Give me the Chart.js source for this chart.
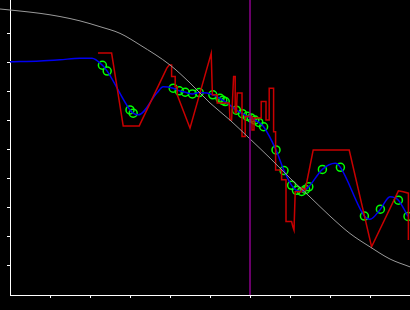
<!DOCTYPE html>
<html>
<head>
<meta charset="utf-8">
<script src="https://cdn.jsdelivr.net/npm/chart.js@4"></script>
<style>
  html, body { margin: 0; padding: 0; background: #000; }
  #wrap { width: 410px; height: 310px; }
</style>
</head>
<body>
<div id="wrap"><canvas id="chart" width="410" height="310"></canvas></div>
<script>
// reference curve (gray)
const curveX = [-0.25, 0.25, 0.75, 1.25, 1.75, 2.25, 2.75, 3.25, 4.0, 4.5, 5.0, 5.5, 6.0, 6.5, 7.0, 7.5, 8.0, 8.5, 9.0, 9.5, 10.0];
const curveY = [9.86, 9.79, 9.71, 9.60, 9.45, 9.25, 9.02, 8.62, 7.93, 7.31, 6.62, 6.03, 5.38, 4.72, 4.03, 3.38, 2.72, 2.12, 1.66, 1.24, 0.97];

// raw signal (red)
const rawX = [2.2, 2.54, 2.83, 3.23, 3.92, 3.98, 4.04, 4.04, 4.13, 4.13, 4.18, 4.18, 4.5, 5.03, 5.06, 5.18, 5.18, 5.48, 5.5, 5.54,
  5.59, 5.63, 5.63, 5.66, 5.68, 5.8, 5.8, 5.88, 5.88, 6.05, 6.05, 6.1, 6.1, 6.28, 6.28, 6.4, 6.4, 6.48, 6.48, 6.59,
  6.59, 6.64, 6.64, 6.79, 6.79, 6.9, 6.9, 7.04, 7.07, 7.1, 7.13, 7.29, 7.29, 7.38, 7.58, 8.48, 9.04, 9.71, 9.83, 9.96,
  9.96];
const rawY = [8.34, 8.34, 5.83, 5.83, 7.82, 7.93, 7.93, 7.53, 7.53, 7.18, 7.18, 6.90, 5.75, 8.33, 6.90, 6.90, 6.62, 6.62, 6.03, 6.03,
  7.53, 7.53, 6.28, 6.28, 6.96, 6.96, 5.46, 5.46, 6.15, 6.15, 5.69, 5.69, 6.10, 6.10, 6.67, 6.67, 6.03, 6.03, 7.13, 7.13,
  5.63, 5.63, 4.31, 4.31, 3.97, 3.97, 2.53, 2.53, 2.36, 2.24, 3.56, 3.56, 3.69, 3.62, 5.0, 5.0, 1.66, 3.59, 3.56, 3.51,
  1.90];

// samples (green circles)
const sampleX = [2.31, 2.43, 3.0, 3.08, 4.08, 4.23, 4.38, 4.56, 4.73, 5.07, 5.25, 5.32, 5.38, 5.66, 5.81, 5.93, 6.03, 6.12, 6.22, 6.34,
  6.65, 6.85, 7.04, 7.16, 7.29, 7.39, 7.47, 7.81, 8.26, 8.86, 9.26, 9.71, 9.95];
const sampleY = [7.92, 7.72, 6.38, 6.27, 7.13, 7.04, 6.99, 6.93, 6.98, 6.90, 6.78, 6.71, 6.67, 6.37, 6.25, 6.16, 6.10, 6.03, 5.95, 5.80,
  5.0, 4.29, 3.78, 3.61, 3.57, 3.64, 3.73, 4.33, 4.40, 2.72, 2.96, 3.27, 2.71];

// smoothed fit (blue)
const fitX = [0, 0.75, 1.25, 1.75, 2.05, 2.31, 2.43, 3.0, 3.08, 3.21, 3.67, 3.83, 4.08, 4.23, 4.38, 4.56, 4.73, 4.92, 5.07, 5.25,
  5.32, 5.38, 5.66, 5.81, 5.93, 6.03, 6.12, 6.22, 6.34, 6.65, 6.85, 7.04, 7.16, 7.29, 7.39, 7.47, 7.81, 8.13, 8.26, 8.86,
  9.0, 9.26, 9.5, 9.71, 9.95];
const fitY = [8.04, 8.07, 8.11, 8.16, 8.16, 7.92, 7.72, 6.38, 6.27, 6.21, 6.96, 7.18, 7.13, 7.04, 6.99, 6.93, 6.98, 6.96, 6.90, 6.78,
  6.71, 6.67, 6.37, 6.25, 6.16, 6.10, 6.03, 5.95, 5.80, 5.0, 4.29, 3.78, 3.61, 3.57, 3.64, 3.73, 4.33, 4.54, 4.40, 2.72,
  2.61, 2.96, 3.39, 3.27, 2.71];

const markerX = 6;
const tickValues = [1, 2, 3, 4, 5, 6, 7, 8, 9];

const toPoints = (xs, ys) => xs.map((x, i) => ({ x, y: ys[i] }));

const axis = (min, max) => ({
  type: 'linear',
  min,
  max,
  afterBuildTicks: (scale) => { scale.ticks = tickValues.map((value) => ({ value })); },
  ticks: { display: false },
  grid: { drawOnChartArea: false, drawTicks: true, tickLength: 3, color: '#fff', lineWidth: 1 },
  border: { color: '#fff', width: 1 },
});

new Chart(document.getElementById('chart'), {
  type: 'scatter',
  data: {
    datasets: [
      {
        data: [{ x: markerX, y: 0 }, { x: markerX, y: 10.17 }],
        showLine: true,
        borderColor: '#8c008c',
        borderWidth: 1.5,
        pointRadius: 0,
      },
      {
        data: toPoints(curveX, curveY),
        showLine: true,
        borderColor: '#9a9a9a',
        borderWidth: 1,
        pointRadius: 0,
        cubicInterpolationMode: 'monotone',
        clip: false,
      },
      {
        data: toPoints(rawX, rawY),
        showLine: true,
        borderColor: '#c80000',
        borderWidth: 1.5,
        pointRadius: 0,
      },
      {
        data: toPoints(fitX, fitY),
        showLine: true,
        borderColor: '#0000f0',
        borderWidth: 1.5,
        pointRadius: 0,
        cubicInterpolationMode: 'monotone',
      },
      {
        data: toPoints(sampleX, sampleY),
        showLine: false,
        pointRadius: 4,
        pointBorderColor: '#00ff00',
        pointBackgroundColor: 'rgba(0,0,0,0)',
        pointBorderWidth: 1.5,
      },
    ],
  },
  options: {
    responsive: false,
    animation: false,
    layout: { autoPadding: false, padding: { left: 7, top: 0, right: 0, bottom: 12 } },
    plugins: { legend: { display: false }, tooltip: { enabled: false } },
    scales: {
      x: axis(0, 10),
      y: axis(0, 10.17),
    },
  },
});
</script>
</body>
</html>
